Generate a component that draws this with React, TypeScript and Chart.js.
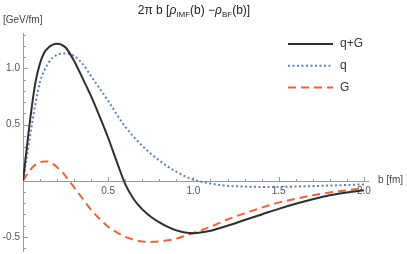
import { useEffect, useRef } from "react";
import { Chart, registerables } from "chart.js";

Chart.register(...registerables);

// ---- data ----
const bValues = [0, 0.025, 0.05, 0.075, 0.1, 0.125, 0.15, 0.175, 0.2, 0.225, 0.25, 0.3, 0.35, 0.4, 0.45, 0.5, 0.55, 0.6, 0.65, 0.7, 0.75, 0.8, 0.85, 0.9, 0.95, 1.0, 1.1, 1.2, 1.3, 1.4, 1.5, 1.6, 1.7, 1.8, 1.9, 2.0];
const qPlusG = [0, 0.33, 0.64, 0.89, 1.045, 1.14, 1.185, 1.21, 1.218, 1.21, 1.185, 1.065, 0.91, 0.75, 0.57, 0.38, 0.17, -0.03, -0.165, -0.255, -0.32, -0.37, -0.41, -0.442, -0.46, -0.467, -0.445, -0.4, -0.35, -0.3, -0.25, -0.205, -0.165, -0.13, -0.105, -0.085];
const qOnly = [0, 0.24, 0.48, 0.7, 0.88, 0.98, 1.05, 1.095, 1.12, 1.13, 1.133, 1.11, 1.04, 0.93, 0.82, 0.71, 0.59, 0.48, 0.39, 0.31, 0.24, 0.18, 0.125, 0.08, 0.04, 0.01, -0.025, -0.045, -0.052, -0.055, -0.055, -0.052, -0.048, -0.043, -0.038, -0.033];
const gluonOnly = [0, 0.06, 0.11, 0.145, 0.165, 0.172, 0.17, 0.15, 0.12, 0.085, 0.04, -0.06, -0.16, -0.26, -0.34, -0.41, -0.46, -0.5, -0.525, -0.54, -0.545, -0.54, -0.53, -0.515, -0.49, -0.465, -0.41, -0.345, -0.29, -0.24, -0.195, -0.16, -0.13, -0.105, -0.085, -0.065];
const seriesLabels = ["q+G", "q", "G"];
const xMajorTicks = [0.5, 1.0, 1.5, 2.0];
const yMajorTicks = [-0.5, 0.5, 1.0];
const xRange = [0, 2.03];
const yRange = [-0.634, 1.314];

const FONT = "'Liberation Sans', Arial, sans-serif";

const mmaPlugin = {
  id: "mmaAxes",
  beforeDatasetsDraw(chart: any) {
    const { ctx } = chart;
    const xs = chart.scales.x;
    const ys = chart.scales.y;
    const x0 = Math.round(xs.getPixelForValue(0)) + 0.5;
    const y0 = Math.round(ys.getPixelForValue(0)) + 0.5;
    ctx.save();
    ctx.strokeStyle = "#9a9a9a";
    ctx.lineWidth = 1;
    ctx.beginPath();
    ctx.moveTo(xs.left, y0);
    ctx.lineTo(xs.right, y0);
    ctx.moveTo(x0, ys.top);
    ctx.lineTo(x0, ys.bottom);
    ctx.stroke();
    ctx.beginPath();
    for (let i = 1; i <= Math.floor(xRange[1] * 10 + 1e-6); i++) {
      const v = i / 10;
      const major = xMajorTicks.some((t) => Math.abs(t - v) < 1e-6);
      const px = Math.round(xs.getPixelForValue(v)) + 0.5;
      ctx.moveTo(px, y0);
      ctx.lineTo(px, y0 - (major ? 4.5 : 2.5));
    }
    for (let i = Math.ceil(yRange[0] * 10); i <= Math.floor(yRange[1] * 10); i++) {
      if (i === 0) continue;
      const v = i / 10;
      const major = yMajorTicks.some((t) => Math.abs(t - v) < 1e-6);
      const py = Math.round(ys.getPixelForValue(v)) + 0.5;
      ctx.moveTo(x0, py);
      ctx.lineTo(x0 + (major ? 4.5 : 2.5), py);
    }
    ctx.stroke();
    ctx.fillStyle = "#555";
    ctx.font = `10px ${FONT}`;
    ctx.textAlign = "center";
    ctx.textBaseline = "middle";
    xMajorTicks.forEach((t) => {
      ctx.fillText(t.toFixed(1), xs.getPixelForValue(t), y0 + 9.5);
    });
    ctx.textAlign = "right";
    yMajorTicks.forEach((t) => {
      ctx.fillText(t.toFixed(1), x0 - 3.5, ys.getPixelForValue(t));
    });
    ctx.fillStyle = "#444";
    ctx.textAlign = "left";
    ctx.fillText("b [fm]", xs.right + 9, y0 - 1);
    ctx.fillText("[GeV/fm]", 3, 20);
    ctx.restore();
  },
  afterDraw(chart: any) {
    const { ctx } = chart;
    ctx.save();
    const pieces = [
      { t: "2\u03c0 b [", f: `12px ${FONT}`, dy: 0 },
      { t: "\u03c1", f: `italic 12px ${FONT}`, dy: 0 },
      { t: "IMF", f: `8px ${FONT}`, dy: 3 },
      { t: "(b) \u2212", f: `12px ${FONT}`, dy: 0 },
      { t: "\u03c1", f: `italic 12px ${FONT}`, dy: 0 },
      { t: "BF", f: `8px ${FONT}`, dy: 3 },
      { t: "(b)]", f: `12px ${FONT}`, dy: 0 },
    ];
    let total = 0;
    pieces.forEach((p) => {
      ctx.font = p.f;
      total += ctx.measureText(p.t).width;
    });
    let cx = 194 - total / 2;
    ctx.fillStyle = "#222";
    ctx.textBaseline = "alphabetic";
    ctx.textAlign = "left";
    pieces.forEach((p) => {
      ctx.font = p.f;
      ctx.fillText(p.t, cx, 14 + p.dy);
      cx += ctx.measureText(p.t).width;
    });
    chart.data.datasets.forEach((ds: any, i: number) => {
      const ly = 44 + i * 21.7;
      ctx.strokeStyle = ds.borderColor;
      ctx.lineWidth = ds.borderWidth;
      ctx.setLineDash(ds.borderDash || []);
      ctx.beginPath();
      ctx.moveTo(288, ly);
      ctx.lineTo(333, ly);
      ctx.stroke();
      ctx.setLineDash([]);
      ctx.fillStyle = "#333";
      ctx.font = `12px ${FONT}`;
      ctx.textBaseline = "middle";
      ctx.fillText(ds.label, 340, ly);
    });
    ctx.restore();
  },
};

export default function App() {
  const ref = useRef<HTMLCanvasElement | null>(null);
  useEffect(() => {
    if (!ref.current) return;
    const mk = (vals: number[]) => bValues.map((b, i) => ({ x: b, y: vals[i] }));
    const chart = new Chart(ref.current, {
      type: "line",
      data: {
        datasets: [
          { label: seriesLabels[0], data: mk(qPlusG), borderColor: "#2e2e2e", borderWidth: 2, pointRadius: 0, cubicInterpolationMode: "monotone" },
          { label: seriesLabels[1], data: mk(qOnly), borderColor: "#5e81b5", borderWidth: 2, borderDash: [2, 2.5], pointRadius: 0, cubicInterpolationMode: "monotone" },
          { label: seriesLabels[2], data: mk(gluonOnly), borderColor: "#eb6235", borderWidth: 2, borderDash: [8, 5], pointRadius: 0, cubicInterpolationMode: "monotone" },
        ],
      } as any,
      options: {
        responsive: false,
        animation: false,
        devicePixelRatio: 1,
        layout: { padding: { left: 23, right: 38, top: 33, bottom: 2 } },
        scales: {
          x: { type: "linear", min: xRange[0], max: xRange[1], display: false },
          y: { type: "linear", min: yRange[0], max: yRange[1], display: false },
        },
        plugins: { legend: { display: false }, title: { display: false }, tooltip: { enabled: false } },
      } as any,
      plugins: [mmaPlugin],
    });
    return () => chart.destroy();
  }, []);
  return (
    <div style={{ position: "absolute", left: 0, top: 0, width: 407, height: 254, background: "#fff" }}>
      <canvas ref={ref} width={407} height={254} />
    </div>
  );
}
